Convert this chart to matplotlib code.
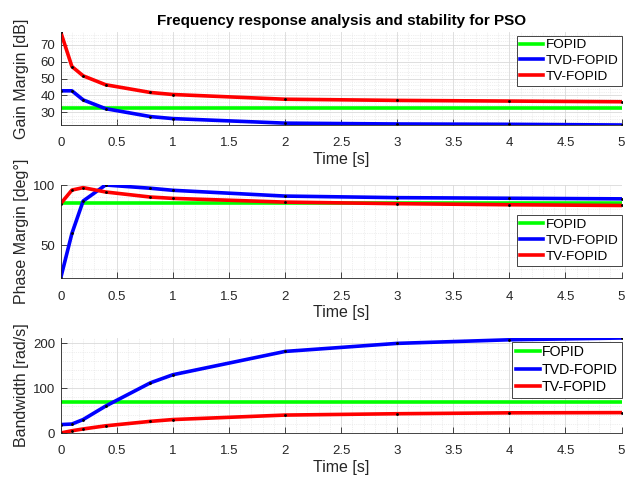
import matplotlib.pyplot as plt
from matplotlib.ticker import MultipleLocator, FuncFormatter

t = [0, 0.1, 0.2, 0.4, 0.8, 1, 2, 3, 4, 5]

gm_fopid = [32.6] * len(t)
gm_tvd = [42.7, 42.7, 37.3, 32.1, 27.4, 26.2, 23.5, 23.0, 22.8, 22.4]
gm_tv = [77.6, 57.1, 51.6, 46.3, 41.7, 40.5, 37.7, 37.0, 36.6, 36.2]

pm_fopid = [85.2] * len(t)
pm_tvd = [22.8, 59.8, 86.7, 100.0, 97.3, 95.6, 90.8, 89.5, 89.0, 88.5]
pm_tv = [84.5, 95.8, 97.8, 94.2, 90.0, 88.9, 85.8, 84.5, 83.6, 83.0]

bw_fopid = [69.0] * len(t)
bw_tvd = [18.8, 20.0, 30.0, 60.0, 112.0, 130.0, 182.0, 200.0, 208.0, 212.0]
bw_tv = [0.0, 5.0, 9.0, 16.0, 26.0, 30.0, 40.0, 43.0, 45.0, 45.5]

names = ['FOPID', 'TVD-FOPID', 'TV-FOPID']
colors = ['#00ff00', '#0000ff', '#ff0000']

plt.rcParams['font.family'] = 'Liberation Sans'

fig = plt.figure(figsize=(6.27, 4.78), dpi=100)
W, H = 627, 478
x0, x1 = 60.7, 621.5
boxes = [(32, 125), (185, 278), (338, 433)]
axes = []
for top, bot in boxes:
    ax = fig.add_axes([x0 / W, 1 - bot / H, (x1 - x0) / W, (bot - top) / H])
    axes.append(ax)

panels = [
    (gm_fopid, gm_tvd, gm_tv, 'Gain Margin [dB]', 10, 2, 'upper right', 0.962, 9.7),
    (pm_fopid, pm_tvd, pm_tv, 'Phase Margin [deg°]', 50, 10, 'lower right', 0.129, 9.7),
    (bw_fopid, bw_tvd, bw_tv, 'Bandwidth [rad/s]', 100, 20, 'upper right', 0.961, 10.2),
]

fmt = FuncFormatter(lambda v, p: '%g' % round(v, 6))

for ax, (a, b, c, lab, maj, mnr, loc, ly, lfs) in zip(axes, panels):
    for ys, col, nm in zip([a, b, c], colors, names):
        ax.plot(t, ys, color=col, lw=2.6, label=nm)
    for ys in [b, c]:
        ax.plot(t, ys, '.', color='k', ms=2)
    allv = a + b + c
    ax.set_xlim(0, 5)
    ax.set_ylim(min(allv), max(allv))
    ax.xaxis.set_major_locator(MultipleLocator(0.5))
    ax.xaxis.set_minor_locator(MultipleLocator(0.1))
    ax.xaxis.set_major_formatter(fmt)
    ax.yaxis.set_major_locator(MultipleLocator(maj))
    ax.yaxis.set_minor_locator(MultipleLocator(mnr))
    ax.grid(which='major', color='#d9d9d9', lw=0.6)
    ax.grid(which='minor', color='#e0e0e0', lw=0.5, ls=':')
    ax.set_axisbelow(True)
    ax.tick_params(which='both', direction='in', labelsize=9.5, colors='#262626',
                   top=False, right=False)
    ax.tick_params(axis='x', pad=9)
    ax.tick_params(axis='y', pad=4)
    ax.tick_params(which='major', length=4, width=0.6)
    ax.tick_params(which='minor', length=0)
    for s in ax.spines.values():
        s.set_color('#262626')
        s.set_linewidth(0.6)
    ax.spines['top'].set_visible(False)
    ax.spines['right'].set_visible(False)
    ax.set_xlabel('Time [s]', fontsize=11.5, color='#262626', labelpad=2)
    ax.set_ylabel(lab, fontsize=11.5, color='#262626')
    ax.yaxis.set_label_coords(-31.5 / (x1 - x0), 0.5)
    leg = ax.legend(loc=loc, bbox_to_anchor=(1.0, ly), fontsize=lfs,
                    fancybox=False, framealpha=1, edgecolor='#262626',
                    handlelength=1.7, handletextpad=0.15, borderpad=0.25,
                    labelspacing=0.25, borderaxespad=0)
    leg.get_frame().set_linewidth(0.6)

axes[0].set_title('Frequency response analysis and stability for PSO',
                  fontsize=11, fontweight='bold', pad=5)

fig.savefig('out.png', dpi=100)
